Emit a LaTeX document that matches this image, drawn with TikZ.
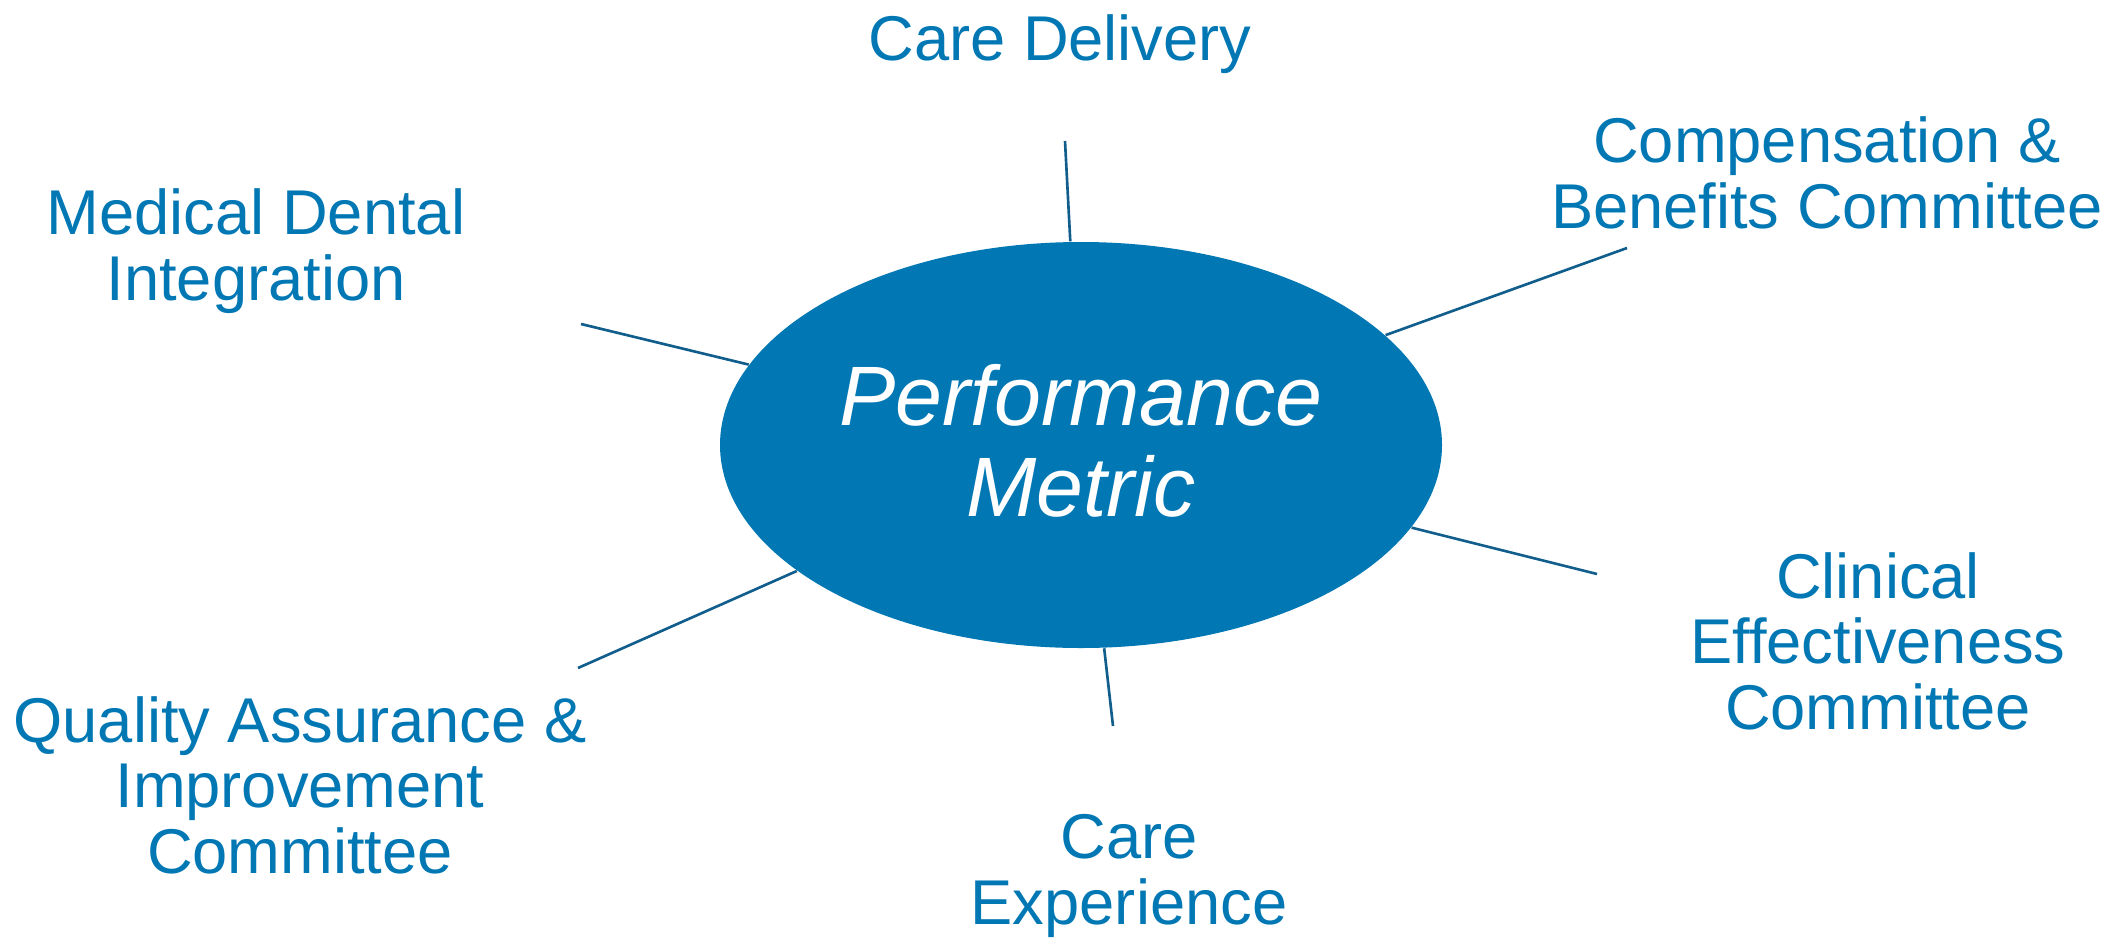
\documentclass[tikz,border=0pt]{standalone}
\usepackage{fontspec}
\setmainfont{Liberation Sans}
\usepackage{tikz}
\usetikzlibrary{shapes.geometric}

\definecolor{metricblue}{RGB}{1,119,180}
\definecolor{spokeblue}{RGB}{17,94,140}

\tikzset{
  label/.style={align=center, anchor=base, inner sep=0pt, text=metricblue,
    font=\fontsize{18pt}{18.5pt}\selectfont},
  hub/.style={ellipse, fill=metricblue, inner sep=0pt, minimum width=7.22cm,
    minimum height=4.06cm, align=center, text=white, text depth=0.1cm,
    font=\fontsize{24pt}{25.9pt}\selectfont\itshape},
  spoke/.style={draw=spokeblue, line width=0.75pt}
}

\begin{document}
\begin{tikzpicture}
\useasboundingbox (0, 0) rectangle (21.28, 9.37);

\node[hub] (pm) at (10.81, 4.92) {Performance \\ Metric};

% labels sit on the baseline of their last line
\node[label] (cd) at (10.60, 8.77) {Care Delivery};
\node[label] (md) at (2.56, 6.37) {Medical Dental \\ Integration};
\node[label] (cb) at (18.27, 7.09) {Compensation \& \\ Benefits Committee};
\node[label] (ce) at (18.78, 2.08) {Clinical \\ Effectiveness \\ Committee};
\node[label] (qa) at (3.00, 0.64) {Quality Assurance \& \\ Improvement \\ Committee};
\node[label] (cx) at (11.29, 0.13) {Care \\ Experience};

\coordinate (cd-end) at (10.65, 7.96);
\coordinate (cb-end) at (16.27, 6.89);
\coordinate (md-end) at (5.81, 6.13);
\coordinate (ce-end) at (15.97, 3.63);
\coordinate (qa-end) at (5.78, 2.69);
\coordinate (cx-end) at (11.13, 2.11);

\draw[spoke] (pm) -- (cd-end);
\draw[spoke] (pm) -- (cb-end);
\draw[spoke] (pm) -- (md-end);
\draw[spoke] (pm) -- (ce-end);
\draw[spoke] (pm) -- (qa-end);
\draw[spoke] (pm) -- (cx-end);
\end{tikzpicture}
\end{document}
